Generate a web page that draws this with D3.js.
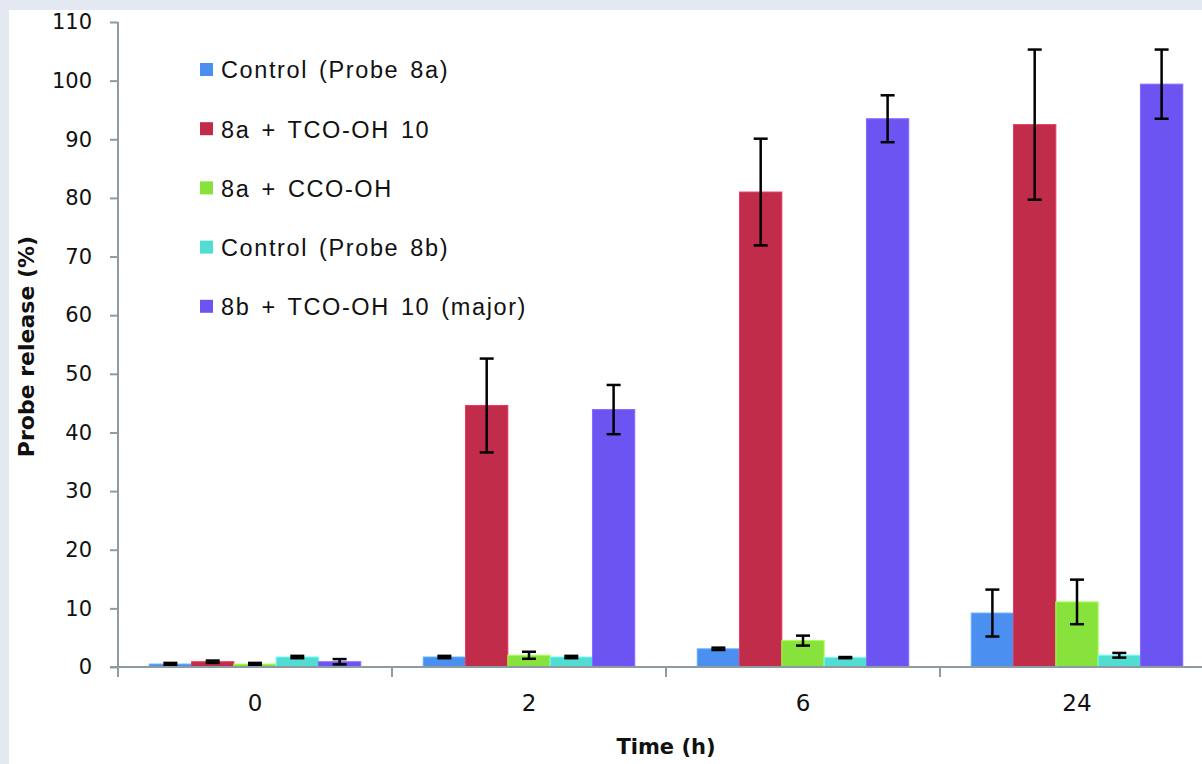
<!DOCTYPE html>
<html>
<head>
<meta charset="utf-8">
<script src="https://cdn.jsdelivr.net/npm/d3@7"></script>
<style>
  html, body { margin: 0; padding: 0; background: #e4e8f0; }
  svg { display: block; }
  text { font-family: "Liberation Sans", Arial, sans-serif; fill: #111; }
</style>
</head>
<body>
<svg id="chart" width="1202" height="764"></svg>
<script>
// time points (h)
const times = ['0', '2', '6', '24']

const series = [
  'Control (Probe 8a)',
  '8a + TCO-OH 10',
  '8a + CCO-OH',
  'Control (Probe 8b)',
  '8b + TCO-OH 10 (major)'
]
const colors = ['#4b8ff0', '#c02c4a', '#88e23c', '#52dcd2', '#6c54f2']

// mean release (%) per series, one value per time point
const control8a = [0.5, 1.7, 3.1, 9.2]
const tco8a = [0.9, 44.6, 81.0, 92.5]
const cco8a = [0.5, 2.0, 4.5, 11.1]
const control8b = [1.7, 1.7, 1.6, 2.0]
const tco8b = [0.9, 43.9, 93.5, 99.4]

// error (+/-)
const control8aErr = [0.2, 0.2, 0.2, 4.0]
const tco8aErr = [0.2, 8.0, 9.1, 12.8]
const cco8aErr = [0.2, 0.6, 0.85, 3.8]
const control8bErr = [0.2, 0.2, 0.1, 0.4]
const tco8bErr = [0.45, 4.2, 4.0, 5.9]

const yTicks = d3.range(0, 111, 10)

const values = [control8a, tco8a, cco8a, control8b, tco8b]
const errors = [control8aErr, tco8aErr, cco8aErr, control8bErr, tco8bErr]

const rows = []
times.forEach((t, i) => {
  series.forEach((s, j) => {
    rows.push({ time: t, series: s, value: values[j][i], err: errors[j][i], color: colors[j] })
  })
})

const svg = d3.select('#chart')

// white panel
svg.append('rect')
  .attr('x', 9).attr('y', 10)
  .attr('width', 1202 - 9).attr('height', 764 - 10)
  .attr('fill', '#fff')

const left = 118
const bandW = 274
const x0 = d3.scaleBand().domain(times).range([left, left + bandW * times.length])
const gap = x0.bandwidth() * 0.114
const x1 = d3.scaleBand().domain(series).range([gap, x0.bandwidth() - gap])
const y = d3.scaleLinear().domain([0, 110]).range([667, 22])

const axisColor = '#8d9ca3'
const tickFont = '"DejaVu Sans", Verdana, sans-serif'

// y axis
const yAxis = svg.append('g')
  .attr('transform', `translate(${left},0)`)
  .call(d3.axisLeft(y).tickValues(yTicks).tickSize(8).tickSizeOuter(0).tickPadding(18))
yAxis.select('.domain').attr('stroke', axisColor).attr('stroke-width', 2)
  .attr('d', `M0,${y(110)}V${y(0) + 10}`)
yAxis.selectAll('.tick line').attr('stroke', axisColor).attr('stroke-width', 2)
yAxis.selectAll('.tick text')
  .style('font-size', '21px').style('font-family', tickFont).attr('fill', '#111')

// bars
const groups = svg.append('g').selectAll('g')
  .data(times)
  .join('g')
  .attr('transform', d => `translate(${x0(d)},0)`)

groups.selectAll('rect')
  .data(t => rows.filter(r => r.time === t))
  .join('rect')
  .attr('x', d => x1(d.series))
  .attr('width', x1.bandwidth())
  .attr('y', d => y(d.value))
  .attr('height', d => y(0) - y(d.value))
  .attr('fill', d => d.color)
  .attr('stroke', d => d3.color(d.color).brighter(0.6))
  .attr('stroke-width', 1)

// error bars
const eb = groups.selectAll('g.err')
  .data(t => rows.filter(r => r.time === t))
  .join('g')
  .attr('class', 'err')
  .attr('stroke', '#000')
  .attr('stroke-width', 2.5)
const cx = d => x1(d.series) + x1.bandwidth() / 2
eb.append('line')
  .attr('x1', cx).attr('x2', cx)
  .attr('y1', d => y(d.value + d.err)).attr('y2', d => y(d.value - d.err))
eb.append('line')
  .attr('x1', d => cx(d) - 7).attr('x2', d => cx(d) + 7)
  .attr('y1', d => y(d.value + d.err)).attr('y2', d => y(d.value + d.err))
eb.append('line')
  .attr('x1', d => cx(d) - 7).attr('x2', d => cx(d) + 7)
  .attr('y1', d => y(d.value - d.err)).attr('y2', d => y(d.value - d.err))

// x axis
const xAxis = svg.append('g')
  .attr('transform', `translate(0,${y(0)})`)
  .call(d3.axisBottom(x0).tickSize(0).tickPadding(28))
xAxis.select('.domain').attr('stroke', axisColor).attr('stroke-width', 2)
  .attr('d', `M${left - 8},0H${left + bandW * times.length}`)
xAxis.selectAll('.tick text')
  .style('font-size', '23px').style('font-family', tickFont).attr('fill', '#111')
xAxis.selectAll('line.sep')
  .data(times.slice(1))
  .join('line')
  .attr('class', 'sep')
  .attr('x1', d => x0(d)).attr('x2', d => x0(d))
  .attr('y1', 0).attr('y2', 10)
  .attr('stroke', axisColor).attr('stroke-width', 2)

// axis titles
svg.append('text')
  .attr('transform', `translate(34,${(y(0) + y(110)) / 2 + 2}) rotate(-90)`)
  .attr('text-anchor', 'middle')
  .style('font-size', '22px').style('font-weight', 'bold').style('font-family', tickFont)
  .text('Probe release (%)')

svg.append('text')
  .attr('x', x0('6'))
  .attr('y', 754)
  .attr('text-anchor', 'middle')
  .style('font-size', '21px').style('font-weight', 'bold').style('font-family', tickFont)
  .text('Time (h)')

// legend
const legend = svg.append('g').attr('transform', 'translate(200,70)')
const item = legend.selectAll('g')
  .data(series)
  .join('g')
  .attr('transform', (d, i) => `translate(0,${i * 59.2})`)
item.append('rect')
  .attr('x', 0).attr('y', -7)
  .attr('width', 13).attr('height', 13)
  .attr('fill', (d, i) => colors[i])
item.append('text')
  .attr('x', 21).attr('y', 0).attr('dy', '0.36em')
  .style('font-size', '23.5px').style('letter-spacing', '1.6px').style('word-spacing', '3px')
  .text(d => d)
</script>
</body>
</html>
